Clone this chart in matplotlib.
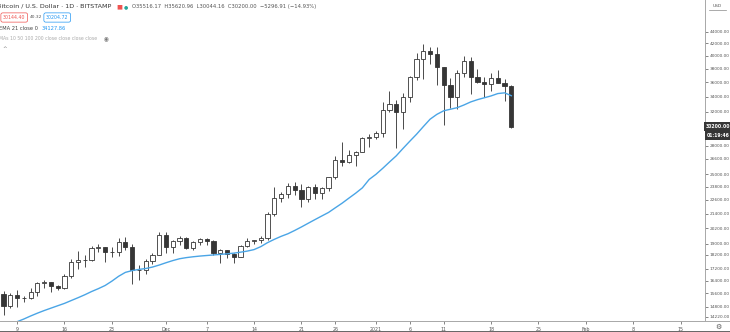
import numpy as np
import pandas as pd
import matplotlib
matplotlib.use("Agg")
import matplotlib.pyplot as plt
import matplotlib.dates as mdates
from matplotlib.lines import Line2D

# daily candles, BITSTAMP BTC/USD, 2020-11-07 .. 2021-01-21
dates = pd.date_range("2020-11-07", "2021-01-21", freq="D")
opens = [15590, 14830, 15480, 15330, 15300, 15700, 16290, 16330, 16080, 15960,
         16720, 17680, 17800, 17820, 18680, 18720, 18420, 18370, 19150, 18730,
         17150, 17130, 17720, 18180, 19700, 18780, 19220, 19440, 18680, 19150,
         19370, 19170, 18320, 18550, 18250, 18030, 18800, 19170, 19270, 19430,
         21350, 22800, 23130, 23850, 23480, 22720, 23820, 23240, 23730, 24700,
         26480, 26270, 27040, 27360, 28880, 28980, 29400, 32200, 33000, 31990,
         33970, 36820, 39460, 40670, 40240, 38240, 35540, 34020, 37390, 39150,
         36800, 36000, 35800, 36620, 35920, 35516.17]
highs = [15770, 15650, 15830, 15470, 15970, 16350, 16480, 16330, 16150, 16880,
         17850, 18480, 18150, 18800, 18970, 18750, 18770, 19420, 19490, 19000,
         17440, 17850, 18340, 19860, 19920, 19300, 19600, 19520, 19180, 19420,
         19410, 19290, 18630, 18560, 18280, 18930, 19400, 19300, 19560, 21560,
         23770, 23280, 24170, 24280, 24100, 23830, 24100, 23770, 24780, 26870,
         28400, 27480, 27400, 28990, 29300, 29630, 33300, 34780, 33600, 34440,
         36930, 40370, 41950, 41380, 41350, 38260, 36600, 37800, 40000, 39750,
         37900, 36800, 37400, 37850, 36400, 35620.96]
lows = [14350, 14710, 14800, 15090, 15270, 15450, 15960, 15710, 15800, 15880,
        16560, 17210, 17340, 17760, 18400, 17650, 18000, 18060, 18560, 16190,
        16480, 16880, 17550, 18180, 18330, 18330, 18930, 18570, 18500, 18900,
        18910, 18200, 17630, 17920, 17570, 18020, 18720, 19000, 19060, 19280,
        21230, 22370, 22750, 23060, 22000, 22400, 22700, 22720, 23430, 24500,
        25850, 26100, 25850, 27320, 27850, 28700, 29000, 32000, 27700, 29900,
        33300, 36330, 36500, 38720, 35550, 30420, 32500, 32400, 36700, 34400,
        35900, 33900, 34800, 35900, 33400, 30044.16]
closes = [14830, 15480, 15330, 15300, 15700, 16290, 16330, 16080, 15960, 16720,
          17680, 17800, 17820, 18680, 18720, 18420, 18370, 19150, 18730, 17150,
          17130, 17720, 18180, 19700, 18780, 19220, 19440, 18680, 19150, 19370,
          19170, 18320, 18550, 18250, 18030, 18800, 19170, 19270, 19430, 21350,
          22800, 23130, 23850, 23480, 22720, 23820, 23240, 23730, 24700, 26480,
          26270, 27040, 27360, 28880, 28980, 29400, 32200, 33000, 31990, 33970,
          36820, 39460, 40670, 40240, 38240, 35540, 34020, 37390, 39150, 36800,
          36000, 35800, 36620, 35920, 35516.17, 30200.00]
# EMA 21 line
ema21 = [13650, 13800, 13950, 14100, 14270, 14430, 14580, 14720, 14860, 15000,
         15170, 15340, 15520, 15720, 15900, 16100, 16380, 16700, 16960, 17080,
         17160, 17220, 17320, 17460, 17620, 17770, 17900, 17980, 18040, 18090,
         18130, 18170, 18210, 18250, 18300, 18370, 18450, 18560, 18780, 19080,
         19330, 19560, 19760, 20020, 20300, 20600, 20900, 21200, 21500, 21900,
         22300, 22750, 23200, 23700, 24500, 25000, 25600, 26250, 26900, 27700,
         28500, 29300, 30200, 31100, 31700, 32150, 32350, 32550, 32900, 33300,
         33600, 33850, 34100, 34420, 34520, 34127.86]

price_ticks = [44000, 42000, 40000, 38000, 36000, 34000, 32000, 28000, 26600,
               25000, 23800, 22600, 21400, 20200, 19000, 18200, 17200, 16400,
               15600, 14800, 14220]
date_ticks = ["2020-11-09", "2020-11-16", "2020-11-23", "2020-12-01", "2020-12-07",
              "2020-12-14", "2020-12-21", "2020-12-26", "2021-01-01", "2021-01-06",
              "2021-01-11", "2021-01-18", "2021-01-25", "2021-02-01", "2021-02-08",
              "2021-02-15"]
date_labels = ["9", "16", "23", "Dec", "7", "14", "21", "26", "2021", "6", "11",
               "18", "25", "Feb", "8", "15"]

W, H = 730, 332
fig = plt.figure(figsize=(W / 100, H / 100), dpi=100)
ax = fig.add_axes([0, 11 / H, 705 / W, 321 / H])

x = mdates.date2num(dates)
o = np.array(opens)
c = np.array(closes)
up = c >= o

#wicks then bodies
ax.vlines(x, lows, highs, color="#4a4a4a", linewidth=0.7, zorder=2)
ax.bar(x, np.abs(c - o), bottom=np.minimum(o, c), width=0.62,
       color=np.where(up, "white", "#363636"), edgecolor="#363636",
       linewidth=0.6, zorder=3)
ax.plot(x, ema21, color="#4aa5e6", linewidth=1.0, zorder=4)

ax.set_yscale("log")
ax.set_ylim(13990, 49850)
ax.set_xlim(x[0] - 0.52, x[0] + 103.6)

ax.yaxis.tick_right()
ax.set_yticks(price_ticks)
ax.set_yticklabels([f"{v:.2f}" for v in price_ticks])
ax.yaxis.set_minor_locator(matplotlib.ticker.NullLocator())
ax.tick_params(axis="y", which="major", labelsize=3.1, colors="#555555",
               length=2, width=0.5, pad=1.5, direction="out")
ax.set_xticks(mdates.date2num(pd.to_datetime(date_ticks)))
ax.set_xticklabels(date_labels)
ax.tick_params(axis="x", labelsize=3.4, colors="#555555", length=2,
               width=0.5, pad=2.5, direction="out")

for s in ["left", "top"]:
    ax.spines[s].set_visible(False)
ax.spines["right"].set_color("#a8a8a8")
ax.spines["bottom"].set_color("#a8a8a8")
ax.spines["right"].set_linewidth(0.7)
ax.spines["bottom"].set_linewidth(0.7)

def fx(px):
    return px / W

def fy(py):
    return 1 - py / H

fig.add_artist(Line2D([fx(705), 1], [fy(321), fy(321)], color="#a8a8a8", lw=0.7))
fig.add_artist(Line2D([0, 1], [fy(331.5), fy(331.5)], color="#4a4a4a", lw=1.2))

# last price tags on the price scale
fig.text(fx(718), fy(126.5), "30200.00", fontsize=3.3, color="white", ha="center",
         va="center", fontweight="bold",
         bbox=dict(boxstyle="square,pad=0.35", fc="#363636", ec="none"))
fig.text(fx(718), fy(135.5), "01:19:46", fontsize=3.3, color="white", ha="center",
         va="center", fontweight="bold",
         bbox=dict(boxstyle="square,pad=0.35", fc="#363636", ec="none"))

fig.text(fx(717), fy(6), "USD", fontsize=3.2, color="#555555", ha="center", va="center")
fig.add_artist(Line2D([fx(709), fx(726)], [fy(10), fy(10)], color="#888888", lw=0.5))
fig.text(fx(718), fy(326.5), "\u2699", fontsize=5, color="#555555", ha="center", va="center")

# legend header
fig.text(fx(-3), fy(6.5), "Bitcoin / U.S. Dollar \u00b7 1D \u00b7 BITSTAMP", fontsize=4.6,
         color="#333333", va="center")
fig.text(fx(116), fy(6.5), "\u25a0", fontsize=4.5, color="#ef5350", va="center")
fig.text(fx(124), fy(6.5), "\u25cf", fontsize=3.5, color="#26a69a", va="center")
fig.text(fx(132), fy(6.5), "O35516.17  H35620.96  L30044.16  C30200.00  \u22125296.91 (\u221214.93%)",
         fontsize=3.8, color="#555555", va="center")

fig.text(fx(3), fy(17.5), "30144.40", fontsize=3.4, color="#ef5350", va="center",
         bbox=dict(boxstyle="round,pad=0.45,rounding_size=0.4", fc="white", ec="#ef5350", lw=0.5))
fig.text(fx(30), fy(17.5), "40.32", fontsize=3.2, color="#555555", va="center")
fig.text(fx(46), fy(17.5), "30204.72", fontsize=3.4, color="#2196f3", va="center",
         bbox=dict(boxstyle="round,pad=0.45,rounding_size=0.4", fc="white", ec="#2196f3", lw=0.5))

fig.text(fx(-1), fy(29), "EMA 21 close 0", fontsize=3.7, color="#444444", va="center")
fig.text(fx(42), fy(29), "34127.86", fontsize=3.7, color="#2196f3", va="center")
fig.text(fx(-1), fy(39), "MAs 10 50 100 200 close close close close", fontsize=3.3,
         color="#aaaaaa", va="center")
fig.text(fx(106), fy(39), "\u25c9", fontsize=4, color="#777777", va="center", ha="center")
fig.text(fx(5), fy(48.5), "^", fontsize=4, color="#777777", va="center", ha="center")

fig.savefig("out.png", dpi=100)
